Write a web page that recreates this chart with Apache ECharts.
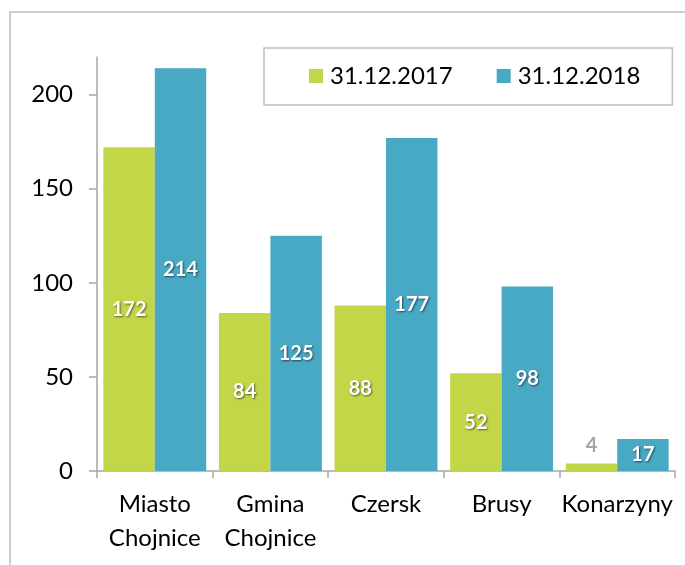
<!DOCTYPE html>
<html>
<head>
<meta charset="utf-8">
<script src="https://cdn.jsdelivr.net/npm/echarts@6/dist/echarts.min.js"></script>
<style>
  html, body { margin: 0; padding: 0; background: #fff; }
  #chart { width: 685px; height: 565px; }
</style>
</head>
<body>
<div id="chart"></div>
<script>
const categories = ['Miasto\nChojnice', 'Gmina\nChojnice', 'Czersk', 'Brusy', 'Konarzyny'];
const values2017 = [172, 84, 88, 52, 4];
const values2018 = [214, 125, 177, 98, 17];
const yTicks = [0, 50, 100, 150, 200];
const seriesNames = ['31.12.2017', '31.12.2018'];

const GREEN = '#c3d648';
const BLUE = '#48a9c5';
const AXIS = '#a6a6a6';
const FONT = 'Lato, "Open Sans", sans-serif';

const chart = echarts.init(document.getElementById('chart'));

const insideLabel = {
  show: true,
  position: 'inside',
  color: '#fff',
  fontFamily: FONT,
  fontWeight: 'bold',
  fontSize: 20,
  textShadowColor: 'rgba(0,0,0,0.55)',
  textShadowBlur: 2,
  textShadowOffsetX: 1,
  textShadowOffsetY: 1
};

// tiny bars get their label above, in grey
function withLabels(values, minInside) {
  return values.map(v => {
    if (v >= minInside) return v;
    return {
      value: v,
      label: {
        position: 'top',
        distance: 8,
        color: '#a6a6a6',
        textShadowColor: 'transparent',
        textShadowBlur: 0,
        textShadowOffsetX: 0,
        textShadowOffsetY: 0
      }
    };
  });
}

chart.setOption({
  backgroundColor: '#fff',
  animation: false,
  graphic: [{
    type: 'rect',
    shape: { x: 10, y: 12, width: 700, height: 600 },
    style: { fill: 'none', stroke: '#bfbfbf', lineWidth: 1.5 },
    silent: true
  }],
  legend: {
    data: seriesNames,
    left: 264,
    top: 48,
    padding: [16, 32, 17, 45],
    itemGap: 44,
    itemWidth: 14,
    itemHeight: 14,
    icon: 'rect',
    borderColor: '#bfbfbf',
    borderWidth: 1.5,
    textStyle: { fontFamily: FONT, fontSize: 24, color: '#000', lineHeight: 24, padding: [0, 0, 0, 2] }
  },
  grid: { left: 97, right: 10, top: 57, bottom: 94 },
  xAxis: {
    type: 'category',
    data: categories,
    axisLine: { lineStyle: { color: AXIS, width: 1.5 } },
    axisTick: { show: true, alignWithLabel: false, length: 7, lineStyle: { color: AXIS, width: 1.5 } },
    axisLabel: {
      color: '#000',
      fontFamily: FONT,
      fontSize: 24,
      lineHeight: 34,
      margin: 16,
      interval: 0
    }
  },
  yAxis: {
    type: 'value',
    min: 0,
    max: 220,
    interval: 50,
    splitLine: { show: false },
    axisLine: { show: true, lineStyle: { color: AXIS, width: 1.5 } },
    axisTick: { show: true, length: 8, customValues: yTicks, lineStyle: { color: AXIS, width: 1.5 } },
    axisLabel: {
      color: '#000',
      fontFamily: FONT,
      fontSize: 24,
      margin: 24,
      customValues: yTicks
    }
  },
  series: [
    {
      name: seriesNames[0],
      type: 'bar',
      data: withLabels(values2017, 10),
      itemStyle: { color: GREEN },
      barGap: '0%',
      barCategoryGap: '11%',
      label: insideLabel
    },
    {
      name: seriesNames[1],
      type: 'bar',
      data: withLabels(values2018, 10),
      itemStyle: { color: BLUE },
      barGap: '0%',
      barCategoryGap: '11%',
      label: insideLabel
    }
  ]
});
</script>
</body>
</html>
